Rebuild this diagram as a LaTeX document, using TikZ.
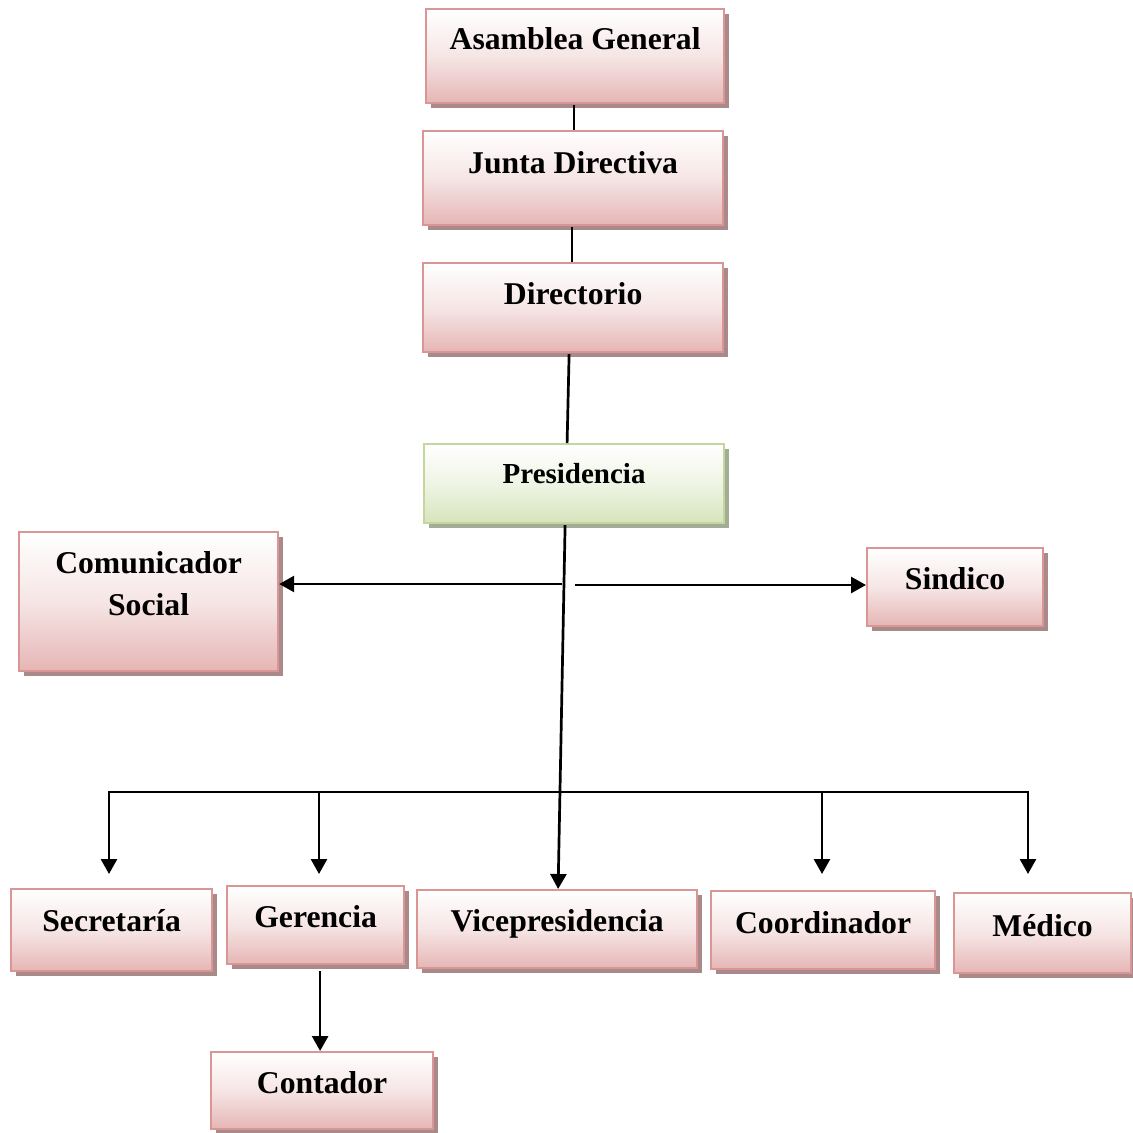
\documentclass[tikz,border=0pt]{standalone}
\usepackage{fontspec}
\setmainfont{Liberation Serif}
\usetikzlibrary{arrows.meta,calc,shadows}
\definecolor{pkborder}{HTML}{D99694}
\definecolor{pkbottom}{HTML}{E5B6B5}
\definecolor{pkshadow}{HTML}{A98989}
\definecolor{grborder}{HTML}{C3D69B}
\definecolor{grbottom}{HTML}{D7E4BD}
\definecolor{grshadow}{HTML}{A3AD95}
\tikzset{
  pbox/.style={draw=pkborder, line width=2.2pt, rectangle, inner sep=0pt, anchor=north west,
    top color=white, bottom color=pkbottom, middle color=pkbottom!35,
    drop shadow={shadow xshift=5pt, shadow yshift=-5pt, fill=pkshadow, opacity=1}},
  gbox/.style={draw=grborder, line width=2.2pt, rectangle, inner sep=0pt, anchor=north west,
    top color=white, bottom color=grbottom, middle color=grbottom!40,
    drop shadow={shadow xshift=5pt, shadow yshift=-5pt, fill=grshadow, opacity=1}},
  lbl/.style={font=\fontsize{31.7}{38}\selectfont\bfseries, inner sep=0pt, anchor=base},
  conn/.style={line width=2.7pt, black, line join=miter},
  tip/.style={-{Triangle[length=15pt,width=16pt]}},
  arr/.style={conn, tip},
}
\begin{document}
\begin{tikzpicture}[x=1pt,y=-1pt]
\useasboundingbox (0,0) rectangle (1133,1133);
% boxes
\node[pbox, minimum width=298, minimum height=94] (ag) at (425,8) {};
\node[pbox, minimum width=300, minimum height=94] (jd) at (422,130) {};
\node[pbox, minimum width=300, minimum height=89] (dir) at (422,262) {};
\node[gbox, minimum width=300, minimum height=79] (pre) at (423,443) {};
\node[pbox, minimum width=259, minimum height=139] (com) at (18,531) {};
\node[pbox, minimum width=176, minimum height=78] (sin) at (866,547) {};
\node[pbox, minimum width=201, minimum height=82] (sec) at (10,888) {};
\node[pbox, minimum width=177, minimum height=78] (ger) at (226,885) {};
\node[pbox, minimum width=280, minimum height=78] (vic) at (416,889) {};
\node[pbox, minimum width=224, minimum height=78] (coo) at (710,890) {};
\node[pbox, minimum width=177, minimum height=80] (med) at (953,892) {};
\node[pbox, minimum width=222, minimum height=77] (con) at (210,1051) {};
% labels
\node[lbl] (agt) at ($(ag.north)+(0,41)$) {Asamblea General};
\node[lbl] (jdt) at ($(jd.north)+(0,43)$) {Junta Directiva};
\node[lbl] (dirt) at ($(dir.north)+(0,42)$) {Directorio};
\node[lbl, font=\fontsize{29}{35}\selectfont\bfseries] (pret) at ($(pre.north)+(0,40)$) {Presidencia};
\node[lbl] (comt1) at ($(com.north)+(0,42)$) {Comunicador};
\node[lbl] (comt2) at ($(com.north)+(0,84)$) {Social};
\node[lbl] (sint) at ($(sin.north)+(0,42)$) {Sindico};
\node[lbl] (sect) at ($(sec.north)+(0,43)$) {Secretaría};
\node[lbl] (gert) at ($(ger.north)+(0,42)$) {Gerencia};
\node[lbl] (vict) at ($(vic.north)+(0,42)$) {Vicepresidencia};
\node[lbl] (coot) at ($(coo.north)+(0,43)$) {Coordinador};
\node[lbl] (medt) at ($(med.north)+(0,44)$) {Médico};
\node[lbl] (cont) at ($(con.north)+(0,42)$) {Contador};
% connectors
\draw[conn] ($(ag.south)+(-1,1)$) -- ($(jd.north)+(1,0)$);
\draw[conn] ($(jd.south)+(-1,1)$) -- ($(dir.north)+(-1,0)$);
\draw[conn] ($(dir.south)+(-4,1)$) -- ($(pre.north)+(-7,0)$);
\draw[arr] ($(pre.south)+(-9,1)$) -- ($(vic.north)+(1,0)$);
\coordinate (hl) at (562,584);
\coordinate (hr) at (575,585);
\draw[arr] (hl) -- (com.east |- hl);
\draw[arr] (hr) -- (sin.west |- hr);
\coordinate (b1) at (109,792);
\coordinate (b2) at (319,792);
\coordinate (b4) at (822,792);
\coordinate (b5) at (1028,792);
\coordinate (d1) at (109,874);
\coordinate (d2) at (319,874);
\coordinate (d4) at (822,874);
\coordinate (d5) at (1028,874);
\draw[conn, {Triangle[length=15pt,width=16pt]}-{Triangle[length=15pt,width=16pt]}] (d1) -- (b1) -- (b5) -- (d5);
\draw[arr] (b2) -- (d2);
\draw[arr] (b4) -- (d4);
\draw[arr] ($(ger.south)+(4.5,6)$) -- ($(con.north)+(-2,0)$);
\end{tikzpicture}
\end{document}
